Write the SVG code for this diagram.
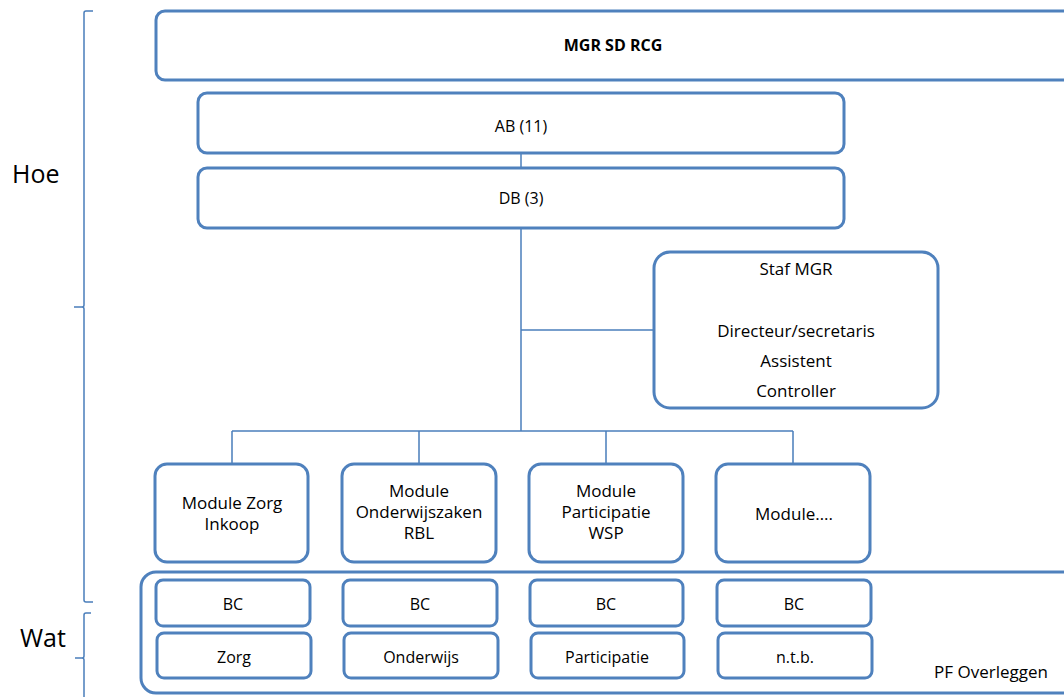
<svg xmlns="http://www.w3.org/2000/svg" width="1064" height="697" viewBox="0 0 1064 697">
  <style>
    .box { fill: #ffffff; stroke: #4f81bd; stroke-width: 3; }
    .wire { fill: none; stroke: #4a7ebb; stroke-width: 1.5; }
    .brace { fill: none; stroke: #4a7ebb; stroke-width: 1.5; }
    .lbl { font-family: "Open Sans", "Liberation Sans", sans-serif; font-size: 17px; fill: #000000; text-anchor: middle; }
    .big { font-family: "Open Sans", "Liberation Sans", sans-serif; font-size: 25px; fill: #000000; }
    .bold { font-weight: bold; font-size: 16px; }
  </style>
  <rect width="1064" height="697" fill="#ffffff"/>

  <!-- side braces -->
  <g id="brace-hoe">
    <path class="brace" d="M93,11 L86,11 Q84,11 84,13 L84,305 Q84,307 82,307 L74,307 M82,307 Q84,307 84,309 L84,600 Q84,602 86,602 L93,602"/>
    <text class="big" x="12" y="183">Hoe</text>
  </g>
  <g id="brace-wat">
    <path class="brace" d="M91,613 L86,613 Q84,613 84,615 L84,656 Q84,658 82,658 L75,658 M82,658 Q84,658 84,660 L84,700"/>
    <text class="big" x="20" y="647">Wat</text>
  </g>

  <!-- connectors -->
  <g id="connectors">
    <path class="wire" d="M521,153 L521,168"/>
    <path class="wire" d="M521,228 L521,431"/>
    <path class="wire" d="M521,330 L654,330"/>
    <path class="wire" d="M232,431 L793,431"/>
    <path class="wire" d="M232,431 L232,464 M419,431 L419,464 M606,431 L606,464 M793,431 L793,464"/>
  </g>

  <!-- governance -->
  <g id="mgr">
    <rect class="box" x="156" y="11" width="930" height="69" rx="9"/>
    <text class="lbl bold" x="613" y="51">MGR SD RCG</text>
  </g>
  <g id="ab">
    <rect class="box" x="198" y="93" width="646" height="60" rx="9"/>
    <text class="lbl" x="521" y="132" style="font-size:16px">AB (11)</text>
  </g>
  <g id="db">
    <rect class="box" x="198" y="168" width="646" height="60" rx="9"/>
    <text class="lbl" x="521" y="204" style="font-size:16px">DB (3)</text>
  </g>
  <g id="staf">
    <rect class="box" x="654" y="252" width="284" height="156" rx="16"/>
    <text class="lbl" x="796" y="275">Staf MGR</text>
    <text class="lbl" x="796" y="337">Directeur/secretaris</text>
    <text class="lbl" x="796" y="367">Assistent</text>
    <text class="lbl" x="796" y="397">Controller</text>
  </g>

  <!-- modules -->
  <g id="module-zorg">
    <rect class="box" x="155" y="464" width="153" height="98" rx="12"/>
    <text class="lbl" x="232" y="509">Module Zorg</text>
    <text class="lbl" x="232" y="530">Inkoop</text>
  </g>
  <g id="module-onderwijs">
    <rect class="box" x="342" y="464" width="154" height="98" rx="12"/>
    <text class="lbl" x="419" y="497">Module</text>
    <text class="lbl" x="419" y="518">Onderwijszaken</text>
    <text class="lbl" x="419" y="539">RBL</text>
  </g>
  <g id="module-participatie">
    <rect class="box" x="529" y="464" width="154" height="98" rx="12"/>
    <text class="lbl" x="606" y="497">Module</text>
    <text class="lbl" x="606" y="518">Participatie</text>
    <text class="lbl" x="606" y="539">WSP</text>
  </g>
  <g id="module-overig">
    <rect class="box" x="716" y="464" width="154" height="98" rx="12"/>
    <text class="lbl" x="794" y="520">Module….</text>
  </g>

  <!-- platform overleggen -->
  <g id="pf-overleggen">
    <rect class="box" x="141" y="572" width="940" height="121" rx="15"/>
    <text class="lbl" x="1048" y="678" style="text-anchor:end">PF Overleggen</text>
  </g>
  <g id="bc-zorg">
    <rect class="box" x="156" y="580" width="154" height="46" rx="7"/>
    <text class="lbl" x="233" y="610" style="font-size:16px">BC</text>
  </g>
  <g id="bc-onderwijs">
    <rect class="box" x="343" y="580" width="154" height="46" rx="7"/>
    <text class="lbl" x="420" y="610" style="font-size:16px">BC</text>
  </g>
  <g id="bc-participatie">
    <rect class="box" x="530" y="580" width="153" height="46" rx="7"/>
    <text class="lbl" x="606" y="610" style="font-size:16px">BC</text>
  </g>
  <g id="bc-overig">
    <rect class="box" x="717" y="580" width="154" height="46" rx="7"/>
    <text class="lbl" x="794" y="610" style="font-size:16px">BC</text>
  </g>
  <g id="pf-zorg">
    <rect class="box" x="157" y="633" width="154" height="45" rx="7"/>
    <text class="lbl" x="234" y="663" style="font-size:16px">Zorg</text>
  </g>
  <g id="pf-onderwijs">
    <rect class="box" x="344" y="633" width="154" height="45" rx="7"/>
    <text class="lbl" x="421" y="663" style="font-size:16px">Onderwijs</text>
  </g>
  <g id="pf-participatie">
    <rect class="box" x="531" y="633" width="153" height="45" rx="7"/>
    <text class="lbl" x="607" y="663" style="font-size:16px">Participatie</text>
  </g>
  <g id="pf-overig">
    <rect class="box" x="718" y="633" width="154" height="45" rx="7"/>
    <text class="lbl" x="795" y="663" style="font-size:16px">n.t.b.</text>
  </g>
</svg>
